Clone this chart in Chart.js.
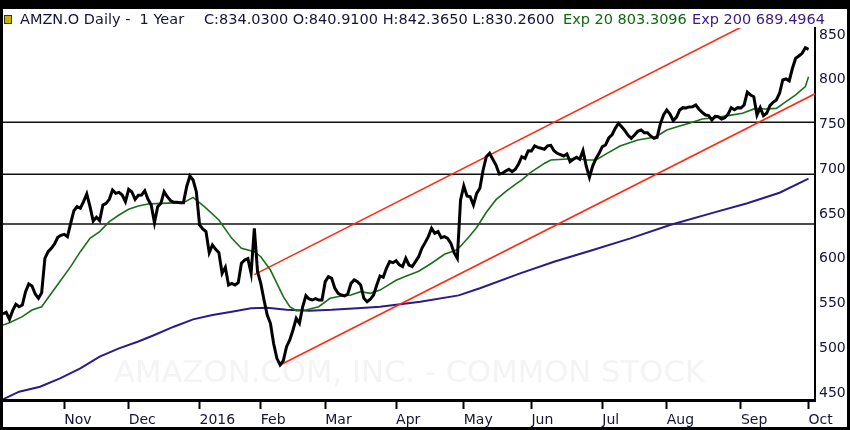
<!DOCTYPE html>
<html><head><meta charset="utf-8">
<script src="https://cdn.jsdelivr.net/npm/chart.js"></script>
<style>html,body{margin:0;padding:0;background:#fff;overflow:hidden}canvas{display:block}</style>
</head><body>
<div style="width:850px;height:430px"><canvas id="c" width="850" height="430"></canvas></div>
<script>
// ---- data ----
const monthIdx = [19, 39, 61, 80, 100, 122, 143, 164, 186, 206, 229, 250];
const monthLabels = ['Nov', 'Dec', '2016', 'Feb', 'Mar', 'Apr', 'May', 'Jun', 'Jul', 'Aug', 'Sep', 'Oct'];
const priceTicks = [450, 500, 550, 600, 650, 700, 750, 800, 850];

// daily closes, trading-day index 0..250
const closes = [
538.3,540.1,532.3,542.0,549.1,546.4,548.3,563.2,571.8,569.6,
560.6,555.8,562.1,600.5,607.9,611.7,616.5,624.0,626.2,627.3,
624.7,639.6,653.7,658.2,656.4,663.8,672.3,658.2,642.2,646.3,
642.6,660.0,661.9,666.4,676.8,673.1,674.2,671.2,663.8,677.6,
674.6,666.4,670.9,671.2,676.0,666.4,660.0,640.3,658.2,661.9,
674.9,669.3,664.9,663.1,663.1,662.7,662.7,680.5,692.5,688.0,
674.9,637.7,633.2,630.3,606.8,615.4,610.5,606.8,583.7,590.4,
570.7,572.5,570.7,573.3,594.9,598.6,600.1,583.7,634.0,585.5,
572.5,553.9,537.2,527.9,505.0,488.7,481.3,486.1,501.8,509.2,
520.4,533.4,527.9,546.4,558.7,555.0,553.9,555.4,553.9,553.9,
574.4,580.0,578.1,566.9,561.4,559.5,558.4,560.6,572.5,576.3,
574.4,570.7,555.8,552.0,554.7,559.5,570.7,580.8,579.3,589.3,
596.8,595.6,597.8,593.1,591.2,600.5,593.0,591.2,596.8,602.3,
611.7,618.0,624.7,634.0,628.4,630.3,623.6,624.7,622.8,617.2,
606.8,600.5,665.6,681.3,670.1,669.3,660.0,673.1,678.7,699.2,
714.0,717.8,711.1,704.7,694.7,695.5,698.0,699.9,697.3,699.9,
705.9,714.0,712.2,720.7,720.4,726.0,724.5,723.4,722.3,726.0,
726.7,720.7,717.8,716.3,714.8,717.0,708.5,711.1,713.3,711.1,
720.7,703.6,691.0,703.6,711.8,717.8,725.2,727.1,734.9,738.3,
745.7,751.3,747.5,743.1,737.9,734.5,738.3,742.4,743.9,740.8,
740.8,737.2,734.5,735.7,750.6,760.6,766.2,761.7,754.3,758.0,
766.2,768.8,768.4,769.6,769.9,771.8,767.0,763.6,760.6,759.9,
755.0,759.1,758.7,756.1,757.6,761.4,768.8,766.5,768.8,768.4,
771.8,786.0,783.0,781.1,760.6,768.8,759.9,762.5,771.0,774.8,
777.4,784.9,799.7,800.9,798.7,812.8,824.0,826.5,829.5,835.8,
834.0
];

// Exp 20 (green) read at positions along the line
const ema20Idx = [0,2,6,9,12,15,18,21,24,27,30,33,36,39,42,45,49,56,59,62.5,67,71,74,78,80,83,85,87,89,91,94,98,101.5,105,108,111,114,117,122,125,129,133,137,140.5,142,144.5,147,150,153,156,159,161,164,168,170,174,178,181,184,187.5,191.5,197,202,203.5,206,210,213,217,221,225,229.5,233.5,236.5,240,243,246,249,250];
const ema20Val = [526,528.6,535.3,542.7,546.4,561.4,576.3,591.2,607.9,622.8,630.3,641.4,648.9,655.2,658.9,661.2,661.9,662.7,668.6,658.2,643.3,622.8,611.7,607.9,602.3,587.4,572.5,557.6,546.4,542,542.7,546.4,555.8,558.4,559.5,563.2,561.4,565,576,580.5,586,595,605,609.5,614,624,635,652,666,675,683,688,697,706.5,710.3,711.1,712.2,710.3,710.3,717.8,726,732.7,735.7,738.3,743.9,748.3,751.3,756.1,757.6,759.9,762.5,768,767.3,768,775.5,783,792.3,803.3];

// Exp 200 (purple)
const ema200Idx = [0,5,11.5,17.7,24,30,36,42,47,53,59,65,71,77,82,88,95,102,110,117,129.5,141.4,148,160.5,171,182.3,194.7,207,220.5,231,241,250];
const ema200Val = [443,451.5,457,466.4,477.6,490.6,499.9,507.5,514.8,524.1,532.3,537.2,540.9,544.6,545.3,543,542,543,544.8,546.4,552,559.1,567,583.7,596.7,609,622.8,637.7,651.5,662,673.8,689.5];

// horizontal levels and trend channel
const levelValues = [752.5, 694.5, 638.7];
const upperTrendX = [78, 252];
const upperTrendY = [582.3, 900.7];
const lowerTrendX = [86, 252];
const lowerTrendY = [481.3, 784.3];

const X_MIN = 0, X_MAX = 252, Y_MIN = 442.2, Y_MAX = 857.8;

const headerParts = [
  {t: 'AMZN.O Daily -  1 Year', x: 20, c: '#14143c'},
  {t: 'C:834.0300 O:840.9100 H:842.3650 L:830.2600', x: 204, c: '#14143c'},
  {t: 'Exp 20 803.3096', x: 563, c: '#0f690f'},
  {t: 'Exp 200 689.4964', x: 692, c: '#3a1a84'}
];
const watermark = 'AMAZON.COM, INC. - COMMON STOCK';

// ---- build datasets ----
const pts = (xs, ys) => xs.map((x, i) => ({x: x, y: ys[i]}));
const datasets = [];
datasets.push({label: 'Close', data: closes.map((v, i) => ({x: i, y: v})), borderColor: '#000', borderWidth: 3, order: 0});
datasets.push({label: 'Exp 20', data: pts(ema20Idx, ema20Val), borderColor: '#1b6e1b', borderWidth: 1.6, order: 1});
datasets.push({label: 'Upper', data: pts(upperTrendX, upperTrendY), borderColor: '#ff2a14', borderWidth: 1.6, order: 2});
datasets.push({label: 'Lower', data: pts(lowerTrendX, lowerTrendY), borderColor: '#ff2a14', borderWidth: 1.6, order: 2});
datasets.push({label: 'Exp 200', data: pts(ema200Idx, ema200Val), borderColor: '#2e1a86', borderWidth: 2, order: 3});
levelValues.forEach(v => datasets.push({label: 'L' + v, data: [{x: X_MIN, y: v}, {x: X_MAX, y: v}], borderColor: '#111', borderWidth: 1.5, order: 4}));
datasets.forEach(d => { d.pointRadius = 0; d.tension = 0; d.fill = false; });

const framePlugin = {
  id: 'frame',
  beforeDraw(chart) {
    const ctx = chart.ctx;
    ctx.save();
    ctx.fillStyle = '#fff';
    ctx.fillRect(0, 0, chart.width, chart.height);
    ctx.restore();
  },
  beforeDatasetsDraw(chart) {
    const ctx = chart.ctx;
    ctx.save();
    ctx.fillStyle = '#f4f4f4';
    ctx.font = '31px "DejaVu Sans"';
    ctx.textAlign = 'center';
    ctx.textBaseline = 'middle';
    ctx.fillText(watermark, 409.5, 374, 591);
    ctx.restore();
  },
  afterDraw(chart) {
    const ctx = chart.ctx;
    ctx.save();
    ctx.fillStyle = '#000';
    ctx.fillRect(0, 0, 850, 9);
    ctx.fillRect(0, 0, 3, 430);
    ctx.fillRect(847, 0, 3, 430);
    ctx.fillRect(0, 427, 850, 3);
    ctx.fillRect(0, 399, 6, 3);
    // header icon
    ctx.fillStyle = '#c9b000';
    ctx.fillRect(5, 16, 6, 7);
    ctx.strokeStyle = '#333';
    ctx.lineWidth = 1;
    ctx.strokeRect(4.5, 15.5, 7, 8);
    ctx.font = '14.5px "DejaVu Sans"';
    ctx.textBaseline = 'middle';
    ctx.textAlign = 'left';
    headerParts.forEach(p => { ctx.fillStyle = p.c; ctx.fillText(p.t, p.x, 20); });
    ctx.restore();
  }
};

new Chart(document.getElementById('c'), {
  type: 'line',
  data: {datasets: datasets},
  options: {
    responsive: false,
    animation: false,
    devicePixelRatio: 1,
    layout: {padding: {left: 3, top: 28, right: 0, bottom: 0}},
    plugins: {legend: {display: false}, tooltip: {enabled: false}},
    scales: {
      x: {
        type: 'linear', min: X_MIN, max: X_MAX,
        afterBuildTicks: s => { s.ticks = monthIdx.map(v => ({value: v})); },
        afterFit: s => { s.height = 30; },
        ticks: {
          autoSkip: false, maxRotation: 0, minRotation: 0, align: 'start', padding: 3,
          color: '#14143c', font: {family: '"DejaVu Sans"', size: 14},
          callback: (v, i) => monthLabels[i]
        },
        grid: {drawOnChartArea: false, drawTicks: true, tickLength: 9, tickColor: '#000', tickWidth: 2, color: '#000'},
        border: {display: true, color: '#000', width: 3}
      },
      y: {
        type: 'linear', position: 'right', min: Y_MIN, max: Y_MAX,
        afterBuildTicks: s => { s.ticks = priceTicks.map(v => ({value: v})); },
        afterFit: s => { s.width = 35; },
        ticks: {padding: 4, color: '#14143c', font: {family: '"DejaVu Sans"', size: 14}},
        grid: {drawOnChartArea: false, drawTicks: false},
        border: {display: true, color: '#000', width: 2}
      }
    }
  },
  plugins: [framePlugin]
});
</script>
</body></html>
